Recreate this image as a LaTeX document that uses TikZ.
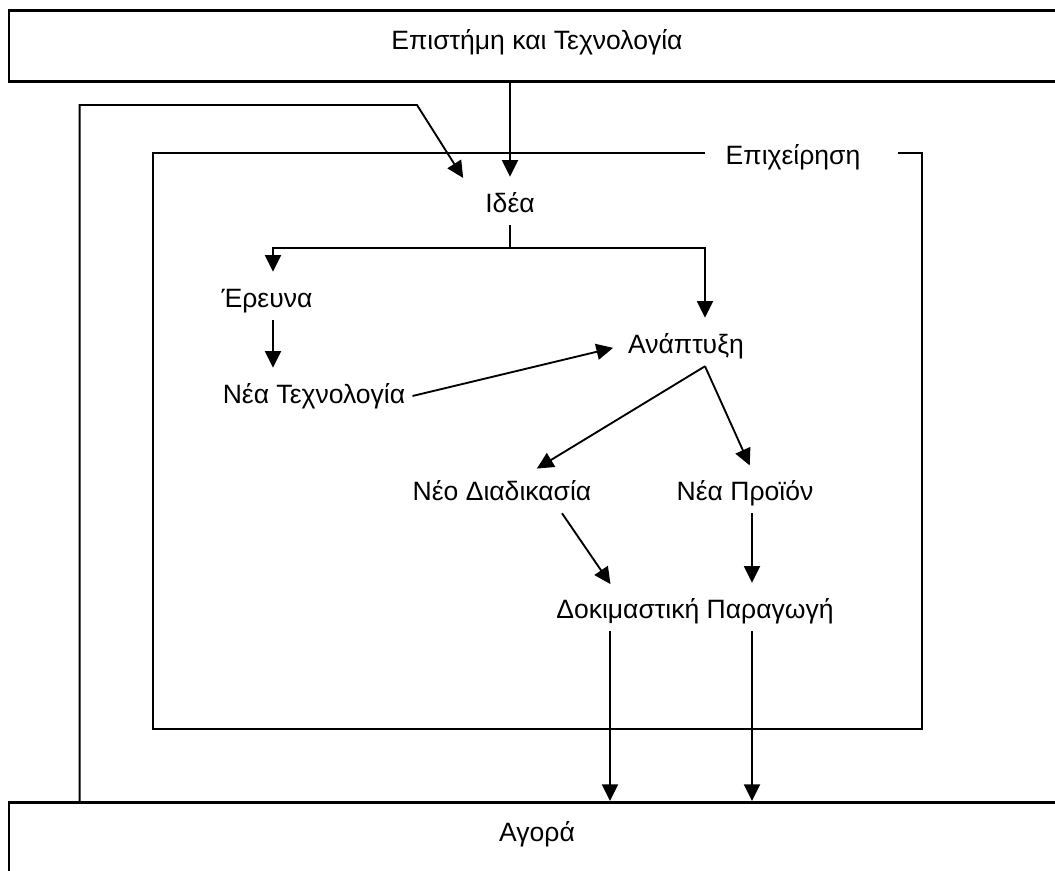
\documentclass[tikz,border=0pt]{standalone}
\usepackage{fontspec}
\setmainfont{Liberation Sans}
\usetikzlibrary{arrows.meta}

\begin{document}
\begin{tikzpicture}[x=0.75pt, y=-0.75pt,
    every node/.style={font=\fontsize{19.9pt}{24pt}\selectfont},
    lbl/.style={inner sep=5.25pt, text height=15pt, text depth=4.5pt},
    bigbox/.style={draw, line width=2pt, minimum width=792pt, anchor=north,
                   inner ysep=14.25pt, text height=15pt},
    arrow/.style={-{Triangle[length=12.5pt, width=12pt]}, line width=1.4pt, shorten >=6pt},
    link/.style={line width=1.4pt}
]
\useasboundingbox (0,0) rectangle (1055,870);

% outer boxes
\node[bigbox, text depth=9.75pt] (sci) at (537,9) {Επιστήμη και Τεχνολογία};
\node[bigbox, text depth=45pt] (agora) at (537,801) {Αγορά};

% firm
\draw[line width=1.6pt] (705,153) -- (153,153) -- (153,729) -- (922,729) -- (922,153) -- (898,153);
\node[lbl] (firm) at (793,157) {Επιχείρηση};

% steps
\node[lbl] (idea) at (510,205) {Ιδέα};
\node[lbl] (research) at (267,300) {Έρευνα};
\node[lbl] (newtech) at (314,396) {Νέα Τεχνολογία};
\node[lbl] (devel) at (686,346) {Ανάπτυξη};
\node[lbl] (process) at (502,493) {Νέο Διαδικασία};
\node[lbl] (product) at (745,493) {Νέα Προϊόν};
\node[lbl] (pilot) at (695,611) {Δοκιμαστική Παραγωγή};

% connectors
\coordinate (split) at ([yshift=-17.25pt]idea.south);
\coordinate (fork) at ([xshift=14.25pt]devel.south);
\coordinate (back) at (417,105);

\draw[arrow] (sci.south -| idea.north) -- (idea.north);
\draw[arrow] ([xshift=54pt]agora.north west) |- (back) -- ([xshift=-8pt]idea.north west);

\draw[link] (idea.south) -- (split);
\draw[arrow] (split) -| ([xshift=4.5pt]research.north);
\draw[arrow] (split) -| (fork |- devel.north);
\draw[arrow] ([xshift=4.5pt]research.south) -- ([xshift=4.5pt]research.south |- newtech.north);
\draw[arrow] (newtech.east) -- (devel.west);

\draw[arrow] (fork) -- ([xshift=21pt]process.north);
\draw[arrow] (fork) -- ([xshift=6pt]product.north);
\draw[arrow] ([xshift=45pt]process.south) -- ([xshift=-60pt]pilot.north);
\draw[arrow] ([xshift=5.25pt]product.south) -- ([xshift=5.25pt]product.south |- pilot.north);

\draw[arrow, shorten >=0pt] ([xshift=-63.75pt]pilot.south) -- ([xshift=-63.75pt]pilot.south |- agora.north);
\draw[arrow, shorten >=0pt] ([xshift=42.75pt]pilot.south) -- ([xshift=42.75pt]pilot.south |- agora.north);
\end{tikzpicture}
\end{document}
